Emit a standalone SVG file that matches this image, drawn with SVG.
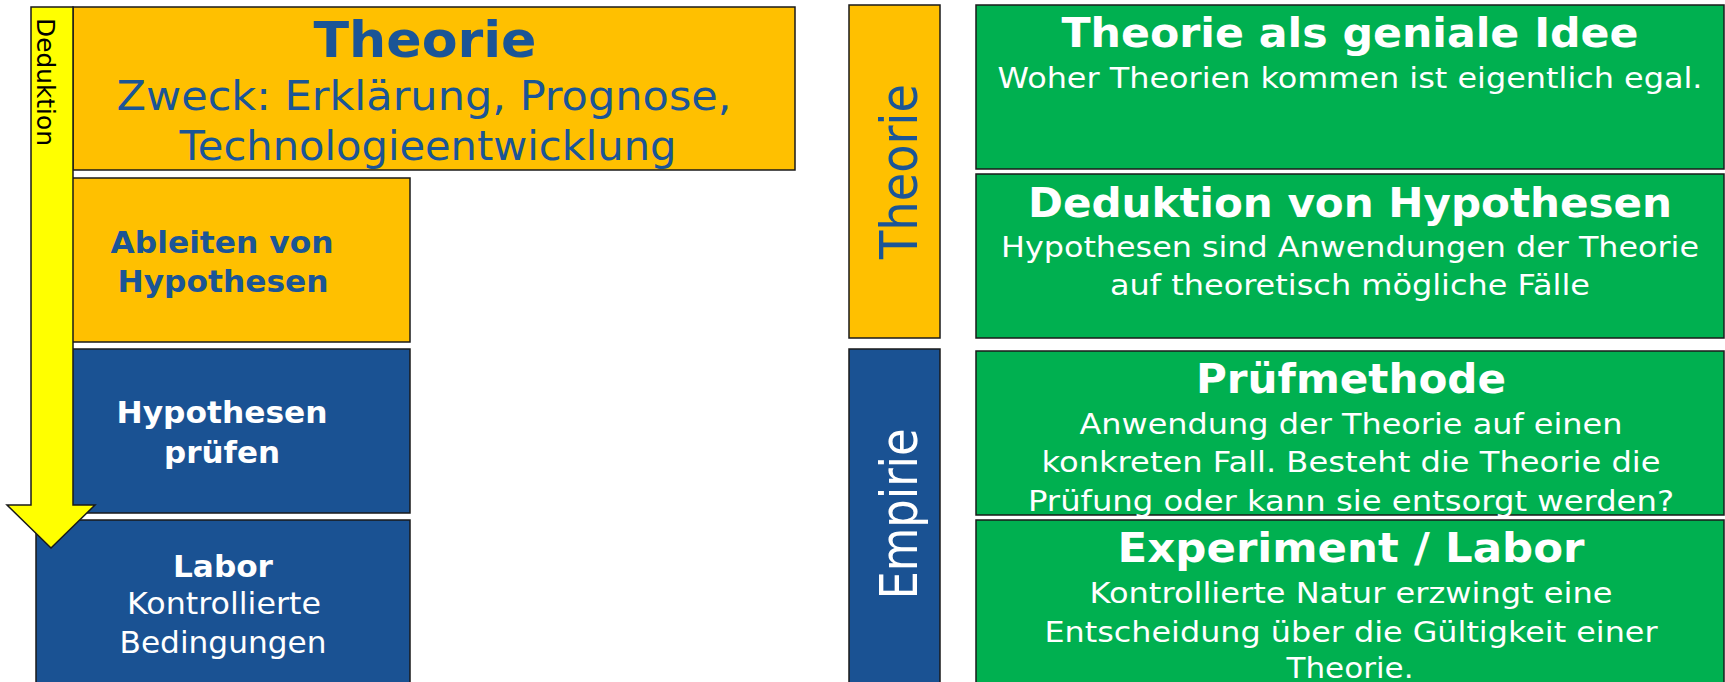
<svg xmlns="http://www.w3.org/2000/svg" width="1725" height="682" viewBox="0 0 1725 682">
<style>
.box{stroke:#1a1a1a;stroke-width:1.5}
.gold{fill:#FFC000}
.blue{fill:#1A5293}
.green{fill:#00B050}
.t{font-family:"DejaVu Sans",Verdana,sans-serif;text-anchor:middle}
.b{font-weight:bold}
.tb{fill:#1B5596}
.tw{fill:#ffffff}
.sub{font-size:29px}
.ttl{font-size:40px;font-weight:bold}
</style>
<rect width="1725" height="682" fill="#ffffff"/>
<g id="theorie-main">
<rect class="box gold" x="73" y="7" width="722" height="163"/>
<text class="t b tb" x="425" y="57" font-size="50" textLength="223" lengthAdjust="spacingAndGlyphs">Theorie</text>
<text class="t tb" x="424" y="110" font-size="40" textLength="615" lengthAdjust="spacingAndGlyphs">Zweck: Erklärung, Prognose,</text>
<text class="t tb" x="428" y="160" font-size="40" textLength="497" lengthAdjust="spacingAndGlyphs">Technologieentwicklung</text>
</g>
<g id="ableiten">
<rect class="box gold" x="72" y="178" width="338" height="164"/>
<text class="t b tb" x="222" y="253" font-size="30" textLength="223" lengthAdjust="spacingAndGlyphs">Ableiten von</text>
<text class="t b tb" x="223" y="292" font-size="30" textLength="211" lengthAdjust="spacingAndGlyphs">Hypothesen</text>
</g>
<g id="pruefen">
<rect class="box blue" x="72" y="349" width="338" height="164"/>
<text class="t b tw" x="222" y="423" font-size="30" textLength="211" lengthAdjust="spacingAndGlyphs">Hypothesen</text>
<text class="t b tw" x="222" y="463" font-size="30" textLength="116" lengthAdjust="spacingAndGlyphs">prüfen</text>
</g>
<g id="labor">
<rect class="box blue" x="36" y="520" width="374" height="170"/>
<text class="t b tw" x="223" y="577" font-size="30" textLength="100" lengthAdjust="spacingAndGlyphs">Labor</text>
<text class="t tw" x="224" y="614" font-size="30" textLength="194" lengthAdjust="spacingAndGlyphs">Kontrollierte</text>
<text class="t tw" x="223" y="653" font-size="30" textLength="207" lengthAdjust="spacingAndGlyphs">Bedingungen</text>
</g>
<g id="connectors">
<polygon points="31,7 73,7 73,505 95,505 51,548 7,505 31,505" fill="#FFFF00" stroke="#1a1a1a" stroke-width="1.5" stroke-linejoin="miter"/>
<text font-family="'DejaVu Sans',Verdana,sans-serif" font-size="25" fill="#000000" transform="translate(37,18) rotate(90)" textLength="128" lengthAdjust="spacingAndGlyphs">Deduktion</text>
</g>
<g id="side-theorie">
<rect class="box gold" x="849" y="5" width="91" height="333"/>
<text class="t tb" font-size="52" transform="translate(917,171.5) rotate(-90)" textLength="175" lengthAdjust="spacingAndGlyphs">Theorie</text>
</g>
<g id="side-empirie">
<rect class="box blue" x="849" y="349" width="91" height="340"/>
<text class="t tw" font-size="52" transform="translate(917,514) rotate(-90)" textLength="171" lengthAdjust="spacingAndGlyphs">Empirie</text>
</g>
<g id="geniale-idee">
<rect class="box green" x="976" y="5" width="748" height="164"/>
<text class="t ttl tw" x="1350" y="47" textLength="577" lengthAdjust="spacingAndGlyphs">Theorie als geniale Idee</text>
<text class="t sub tw" x="1350" y="88" textLength="705" lengthAdjust="spacingAndGlyphs">Woher Theorien kommen ist eigentlich egal.</text>
</g>
<g id="deduktion-hypothesen">
<rect class="box green" x="976" y="174" width="748" height="164"/>
<text class="t ttl tw" x="1350" y="217" textLength="644" lengthAdjust="spacingAndGlyphs">Deduktion von Hypothesen</text>
<text class="t sub tw" x="1350" y="257" textLength="698" lengthAdjust="spacingAndGlyphs">Hypothesen sind Anwendungen der Theorie</text>
<text class="t sub tw" x="1350" y="295" textLength="480" lengthAdjust="spacingAndGlyphs">auf theoretisch mögliche Fälle</text>
</g>
<g id="pruefmethode">
<rect class="box green" x="976" y="351" width="748" height="164"/>
<text class="t ttl tw" x="1351" y="393" textLength="310" lengthAdjust="spacingAndGlyphs">Prüfmethode</text>
<text class="t sub tw" x="1351" y="434" textLength="543" lengthAdjust="spacingAndGlyphs">Anwendung der Theorie auf einen</text>
<text class="t sub tw" x="1351" y="472" textLength="619" lengthAdjust="spacingAndGlyphs">konkreten Fall. Besteht die Theorie die</text>
<text class="t sub tw" x="1351" y="511" textLength="646" lengthAdjust="spacingAndGlyphs">Prüfung oder kann sie entsorgt werden?</text>
</g>
<g id="experiment-labor">
<rect class="box green" x="976" y="520" width="748" height="170"/>
<text class="t ttl tw" x="1351" y="562" textLength="467" lengthAdjust="spacingAndGlyphs">Experiment / Labor</text>
<text class="t sub tw" x="1351" y="603" textLength="523" lengthAdjust="spacingAndGlyphs">Kontrollierte Natur erzwingt eine</text>
<text class="t sub tw" x="1351" y="642" textLength="613" lengthAdjust="spacingAndGlyphs">Entscheidung über die Gültigkeit einer</text>
<text class="t sub tw" x="1350" y="678" textLength="127" lengthAdjust="spacingAndGlyphs">Theorie.</text>
</g>
</svg>
